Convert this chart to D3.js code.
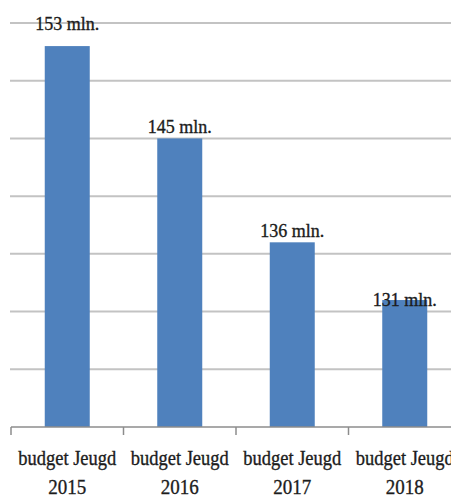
<!DOCTYPE html>
<html lang="en">
<head>
    <meta charset="UTF-8">
    <title>budget Jeugd</title>
    <style>
        body { margin: 0; background: #fff; }
        text { font-family: "Liberation Serif", "DejaVu Serif", serif; fill: #1c1c1c; stroke: #1c1c1c; stroke-width: 0.35; }
    </style>
</head>
<body>
    <div id="container"></div>
</body>
</html>
<script src="https://d3js.org/d3.v7.min.js"></script>
<script>
    // data
    const categories = ['budget Jeugd 2015', 'budget Jeugd 2016', 'budget Jeugd 2017', 'budget Jeugd 2018'];
    const values = [153, 145, 136, 131];
    const valueLabels = ['153 mln.', '145 mln.', '136 mln.', '131 mln.'];
    const yTicks = [125, 130, 135, 140, 145, 150, 155];

    // labels were nudged by hand in the original
    const labelNudge = [-16, -5, -5, 6];

    const width = 451;
    const height = 500;
    const axisY = 427;

    const svg = d3.select('#container')
        .append('svg')
        .attr('width', width)
        .attr('height', height);

    const x = d3.scaleBand()
        .domain(categories)
        .range([11, 461])
        .paddingInner(0.6)
        .paddingOuter(0.3);

    const y = d3.scaleLinear()
        .domain([120, 155])
        .range([axisY, 23]);

    // gridlines
    svg.append('g')
        .selectAll('line')
        .data(yTicks)
        .enter().append('line')
        .attr('x1', 10)
        .attr('x2', width)
        .attr('y1', d => y(d))
        .attr('y2', d => y(d))
        .attr('stroke', '#c3c3c3')
        .attr('stroke-width', 2);

    // bars
    svg.append('g')
        .selectAll('rect')
        .data(categories)
        .enter().append('rect')
        .attr('x', d => x(d))
        .attr('width', x.bandwidth())
        .attr('y', (d, i) => y(values[i]))
        .attr('height', (d, i) => axisY - y(values[i]))
        .attr('fill', '#4f81bd');

    // x axis line + ticks at category boundaries
    svg.append('line')
        .attr('x1', 11).attr('x2', width)
        .attr('y1', axisY).attr('y2', axisY)
        .attr('stroke', '#8c8c8c')
        .attr('stroke-width', 1.5);

    const step = x.step();
    svg.append('g')
        .selectAll('line')
        .data(d3.range(categories.length + 1))
        .enter().append('line')
        .attr('x1', i => 11 + i * step)
        .attr('x2', i => 11 + i * step)
        .attr('y1', axisY)
        .attr('y2', axisY + 8)
        .attr('stroke', '#8c8c8c')
        .attr('stroke-width', 1.5);

    // value labels
    svg.append('g')
        .selectAll('text')
        .data(valueLabels)
        .enter().append('text')
        .attr('x', (d, i) => x(categories[i]) + x.bandwidth() / 2)
        .attr('y', (d, i) => y(values[i]) + labelNudge[i])
        .attr('text-anchor', 'middle')
        .attr('font-size', 19)
        .attr('textLength', 64)
        .attr('lengthAdjust', 'spacingAndGlyphs')
        .text(d => d);

    // category labels, two lines each
    const cat = svg.append('g')
        .selectAll('g')
        .data(categories)
        .enter().append('g')
        .attr('transform', d => `translate(${x(d) + x.bandwidth() / 2},0)`);

    cat.append('text')
        .attr('y', 465)
        .attr('text-anchor', 'middle')
        .attr('font-size', 21)
        .attr('textLength', 98)
        .attr('lengthAdjust', 'spacingAndGlyphs')
        .text(d => d.split(' ').slice(0, 2).join(' '));

    cat.append('text')
        .attr('y', 494)
        .attr('text-anchor', 'middle')
        .attr('font-size', 21)
        .attr('textLength', 38)
        .attr('lengthAdjust', 'spacingAndGlyphs')
        .text(d => d.split(' ')[2]);
</script>
